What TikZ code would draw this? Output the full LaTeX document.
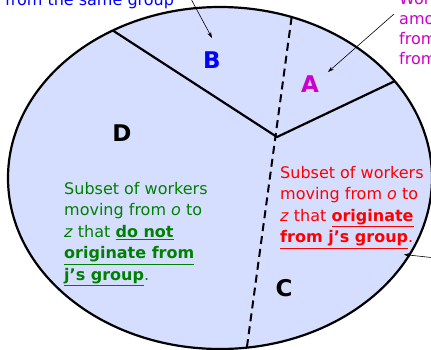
\documentclass[tikz,border=0pt]{standalone}
\usepackage{fontspec}
\setmainfont{DejaVu Sans}
\usepackage{xcolor}
\usepackage{tikz}
\usetikzlibrary{positioning,arrows.meta,shapes.geometric,calc}
\definecolor{regionfill}{RGB}{214,222,255}
\definecolor{labelmagenta}{RGB}{204,0,204}
\definecolor{labelgreen}{RGB}{0,128,0}
\tikzset{
region/.style={
draw,
ellipse,
line width=2.2pt,
fill=regionfill,
inner sep=0pt,
outer sep=0pt,
minimum width=424pt,
minimum height=342pt
},
border/.style={
line width=2.2pt
},
split/.style={
line width=2pt,
dash pattern=on 8pt off 5pt
},
letter/.style={
font=\fontsize{23}{23}\selectfont\bfseries,
inner sep=0pt
},
note/.style={
align=left,
anchor=north west,
inner sep=0pt,
font=\fontsize{16}{21.5}\selectfont
},
pointer/.style={
-{Stealth[length=6pt,width=4pt]},
line width=0.6pt
}
}
\newcommand{\ubf}[1]{\underline{\textbf{#1}}}

\begin{document}
\begin{tikzpicture}[x=1pt,y=-1pt]
\path[use as bounding box,clip](0,0) rectangle (431,349);
\node[region](oval) at (220,178){};
\coordinate (hub) at (277,137);
\draw[border](oval.126)--(hub)--(oval.29);
\draw[split](oval.66)--(oval.-81);

\node[letter,text=blue](lblB) at (212,60){B};
\node[letter,text=labelmagenta](lblA) at (310,84){A};
\node[letter](lblD) at (122,133){D};
\node[letter](lblC) at (284,288){C};

\node[note,text=labelgreen](outside) at (64,182){Subset of workers\\moving from \textit{o} to\\\textit{z} that \ubf{do not}\\\ubf{originate from}\\\ubf{j’s group}.};
\node[note,text=red](inside) at (280,166){Subset of workers\\moving from \textit{o} to\\\textit{z} that \ubf{originate}\\\ubf{from j’s group}.};

\node[note,text=blue](samegroup) at (5,-7){from the same group};
\node[note,text=labelmagenta,font=\fontsize{16}{20}\selectfont](among) at (399,-7){Wor\\amo\\from\\from};

\coordinate (fromgroup) at (190,-3);
\coordinate (fromamong) at (394,14);
\coordinate (fromright) at (436,258);
\draw[pointer](fromgroup)--($(lblB.center)+(0,-22)$);
\draw[pointer](fromamong)--($(lblA.center)+(18,-12)$);
\draw[pointer](fromright)--($(inside.south east)+(-20,6)$);
\end{tikzpicture}
\end{document}
